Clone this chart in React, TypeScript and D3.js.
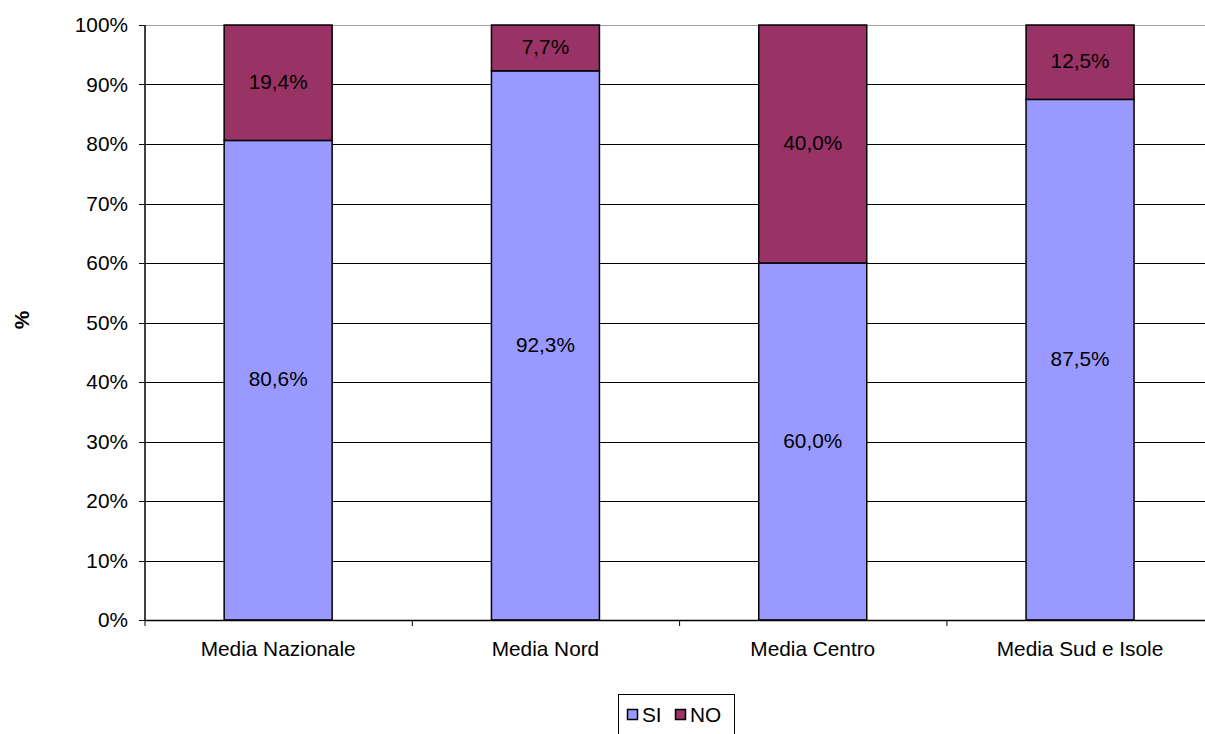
import React from "react";
import * as d3 from "d3";

const categories = ["Media Nazionale", "Media Nord", "Media Centro", "Media Sud e Isole"];
const siValues = [80.6, 92.3, 60.0, 87.5];
const noValues = [19.4, 7.7, 40.0, 12.5];
const yTicks = [0, 10, 20, 30, 40, 50, 60, 70, 80, 90, 100];
const seriesNames = ["SI", "NO"];
const seriesColors = ["#9999FF", "#993366"];

const W = 1205;
const H = 734;
const left = 144.5;
const top = 25;
const bottom = 620;
const bandW = 267.3;
const FS = 20.8;

const fmt = (v: number) => v.toFixed(1).replace(".", ",") + "%";

export default function App() {
  const x = d3
    .scaleBand<string>()
    .domain(categories)
    .range([left, left + bandW * categories.length])
    .paddingInner(0.596)
    .paddingOuter(0.298);
  const y = d3.scaleLinear().domain([0, 100]).range([bottom, top]);

  const rows = categories.map((c, i) => ({ cat: c, SI: siValues[i], NO: noValues[i] }));
  const stacked = d3.stack<any>().keys(seriesNames)(rows);

  const font = "Liberation Sans, Arial, sans-serif";

  return (
    <svg
      width={W}
      height={H}
      style={{ position: "absolute", left: 0, top: 0, background: "#fff" }}
      fontFamily={font}
    >
      {/* gridlines */}
      {yTicks.map((t) => (
        <line
          key={"g" + t}
          x1={left}
          x2={W}
          y1={Math.round(y(t)) + 0.5}
          y2={Math.round(y(t)) + 0.5}
          stroke={t === 100 ? "#a0a0a0" : "#000"}
          strokeWidth={1}
        />
      ))}
      {/* y tick marks and labels */}
      {yTicks.map((t) => (
        <g key={"t" + t}>
          <line x1={139} x2={left} y1={Math.round(y(t)) + 0.5} y2={Math.round(y(t)) + 0.5} stroke="#000" />
          <text x={128} y={y(t)} dy="0.36em" textAnchor="end" fontSize={FS} fill="#000">
            {t}%
          </text>
        </g>
      ))}
      {/* stacked bars with value labels */}
      {stacked.map((s, si) => (
        <g key={s.key}>
          {s.map((d, i) => {
            const x0 = x(categories[i])!;
            const y0 = y(d[1]);
            const y1 = y(d[0]);
            const val = si === 0 ? siValues[i] : noValues[i];
            return (
              <g key={i}>
                <rect
                  x={x0}
                  y={y0}
                  width={x.bandwidth()}
                  height={y1 - y0}
                  fill={seriesColors[si]}
                  stroke="#000"
                  strokeWidth={1.5}
                />
                <text
                  x={x0 + x.bandwidth() / 2}
                  y={(y0 + y1) / 2}
                  dy="0.3em"
                  textAnchor="middle"
                  fontSize={FS}
                  fill="#000"
                >
                  {fmt(val)}
                </text>
              </g>
            );
          })}
        </g>
      ))}
      {/* axes */}
      <line x1={left + 0.5} x2={left + 0.5} y1={top} y2={bottom + 0.5} stroke="#000" strokeWidth={1.5} />
      <line x1={left} x2={W} y1={bottom + 0.5} y2={bottom + 0.5} stroke="#000" strokeWidth={1.5} />
      {categories.map((c, i) => (
        <line
          key={"ct" + i}
          x1={left + bandW * i + 0.5}
          x2={left + bandW * i + 0.5}
          y1={bottom}
          y2={bottom + 6}
          stroke="#000"
        />
      ))}
      {categories.map((c) => (
        <text
          key={"cl" + c}
          x={x(c)! + x.bandwidth() / 2}
          y={649}
          dy="0.36em"
          textAnchor="middle"
          fontSize={FS}
          fill="#000"
        >
          {c}
        </text>
      ))}
      {/* y axis title */}
      <text
        transform="translate(21,320) rotate(-90)"
        textAnchor="middle"
        dy="0.36em"
        fontSize={FS}
        fontWeight="bold"
        fill="#000"
      >
        %
      </text>
      {/* legend */}
      <rect x={618.5} y={694.5} width={116} height={50} fill="#fff" stroke="#000" strokeWidth={1} />
      {seriesNames.map((n, i) => {
        const lx = i === 0 ? 627 : 675;
        return (
          <g key={n}>
            <rect x={lx + 0.5} y={709.5} width={10} height={10} fill={seriesColors[i]} stroke="#000" strokeWidth={1.5} />
            <text x={lx + 15} y={715} dy="0.36em" fontSize={FS} fill="#000">
              {n}
            </text>
          </g>
        );
      })}
    </svg>
  );
}
